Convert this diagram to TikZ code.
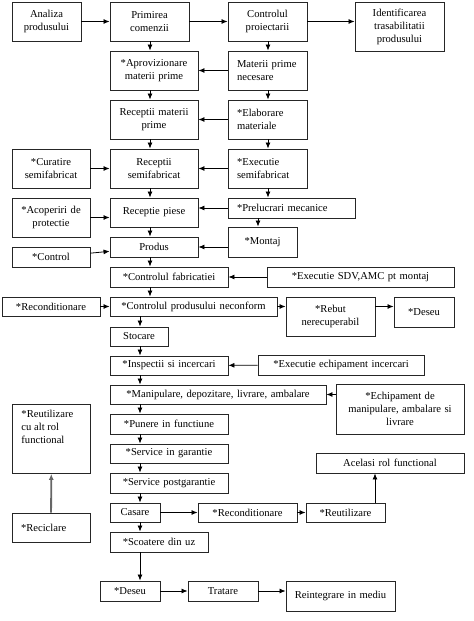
\documentclass[tikz,border=0pt]{standalone}
\usepackage{fontspec}
\setmainfont{Liberation Serif}
\usetikzlibrary{arrows.meta}

\begin{document}
\begin{tikzpicture}[x=1bp, y=-1bp,
    box/.style={draw=black!85, line width=0.9bp, inner ysep=2bp,
      font=\fontsize{10.6bp}{13bp}\selectfont},
    arr/.style={-{Latex[length=6bp,width=5bp]}, line width=0.8bp},
    grayarr/.style={arr, draw=black!60, line width=1.8bp}]
    \useasboundingbox (0,0) rectangle (474,621);

    % Columns of the vertical arrows
    \coordinate (colA) at (150,0);
    \coordinate (colB) at (140,0);
    \coordinate (colC) at (268,0);
    \coordinate (colD) at (258,0);
    \coordinate (colE) at (375,0);

    % Boxes with centered text: name/left/top/right/bottom/text
    \foreach \n/\xa/\ya/\xb/\yb/\t in {
      ana/12/2/81/41/{Analiza\\produsului},
      prim/110/2/189/41/{Primirea\\comenzii},
      ctrl/228/2/307/41/{Controlul\\proiectarii},
      ident/355/2/444/51/{Identificarea\\trasabilitatii\\produsului},
      aprov/110/51/198/90/{*Aprovizionare\\materii prime},
      recmat/110/100/198/139/{Receptii materii\\prime},
      cur/12/149/90/188/{*Curatire\\semifabricat},
      recsf/110/149/198/188/{Receptii\\semifabricat},
      acop/12/198/90/237/{*Acoperiri de\\protectie},
      recp/110/198/198/227/{Receptie piese},
      ctl/12/247/90/267/{*Control},
      prod/110/237/198/257/{Produs},
      mont/228/227/297/257/{*Montaj},
      cfab/110/267/228/287/{*Controlul fabricatiei},
      sdv/267/267/454/287/{*Executie SDV,AMC pt montaj},
      recA/2/297/100/316/{*Reconditionare},
      cprod/110/297/277/316/{*Controlul produsului neconform},
      rebut/286/297/375/336/{*Rebut\\nerecuperabil},
      deseuA/394/297/454/327/{*Deseu},
      stoc/110/327/168/346/{Stocare},
      insp/110/356/228/375/{*Inspectii si incercari},
      echinc/258/355/424/375/{*Executie echipament incercari},
      manip/110/385/326/404/{*Manipulare, depozitare, livrare, ambalare},
      echman/336/384/464/434/{*Echipament de\\manipulare, ambalare si\\livrare},
      pun/110/414/228/434/{*Punere in functiune},
      sgar/110/444/228/463/{*Service in garantie},
      spg/110/473/228/493/{*Service postgarantie},
      cas/110/503/160/522/{Casare},
      recB/198/503/297/522/{*Reconditionare},
      reutil/306/503/385/522/{*Reutilizare},
      acel/316/453/464/473/{Acelasi rol functional},
      scoat/110/532/208/552/{*Scoatere din uz},
      deseuB/100/581/160/601/{*Deseu},
      trat/188/581/258/601/{Tratare},
      reint/286/581/395/611/{Reintegrare in mediu}} {
      \pgfmathsetmacro\tw{\xb-\xa-8}
      \pgfmathsetmacro\hh{\yb-\ya}
      \node[box, align=center, inner xsep=4bp, text width=\tw bp, minimum height=\hh bp]
        (\n) at ({(\xa+\xb)/2},{(\ya+\yb)/2}) {\t};
    }

    % Boxes with left aligned text
    \foreach \n/\xa/\ya/\xb/\yb/\t in {
      matp/228/51/307/90/{Materii prime\\necesare},
      elab/228/100/307/139/{*Elaborare\\materiale},
      exsf/228/149/307/188/{*Executie\\semifabricat},
      prel/228/198/355/218/{*Prelucrari mecanice},
      recic/12/513/90/542/{*Reciclare}} {
      \pgfmathsetmacro\tw{\xb-\xa-18}
      \pgfmathsetmacro\hh{\yb-\ya}
      \node[box, align=left, inner xsep=9bp, text width=\tw bp, minimum height=\hh bp]
        (\n) at ({(\xa+\xb)/2},{(\ya+\yb)/2}) {\t};
    }
    \node[box, anchor=north west, inner xsep=9bp, inner ysep=5.5bp] (ralt) at (12,404)
      {\parbox[t][58bp][t]{60bp}{*Reutilizare\\cu alt rol\\functional}};

    % Straight arrows
    \foreach \a/\b in {ana/prim, prim/ctrl, matp/aprov, elab/recmat, exsf/recsf,
      cur/recsf, ctl/prod, sdv/cfab, recA/cprod, echinc/insp, cas/recB,
      recB/reutil, deseuB/trat}
      \draw[arr] (\a) -- (\b);

    % Vertical arrows
    \foreach \a/\b in {prim/aprov, aprov/recmat, recmat/recsf, recsf/recp,
      recp/prod, prod/cfab, cfab/cprod}
      \draw[arr] (\a.south -| colA) -- (\b.north -| colA);
    \foreach \a/\b in {cprod/stoc, stoc/insp, insp/manip, manip/pun, pun/sgar,
      sgar/spg, spg/cas, cas/scoat, scoat/deseuB}
      \draw[arr] (\a.south -| colB) -- (\b.north -| colB);
    \foreach \a/\b in {ctrl/matp, matp/elab, elab/exsf, exsf/prel}
      \draw[arr] (\a.south -| colC) -- (\b.north -| colC);
    \draw[arr] (prel.south -| colD) -- (mont.north -| colD);
    \draw[arr] (reutil.north -| colE) -- (acel.south -| colE);
    \draw[grayarr] (recic) -- (ralt);

    % Arrows between boxes of different heights
    \draw[arr] (ctrl.east) -- (ident.west |- ctrl.east);
    \draw[arr] (prel.west) -- (recp.east |- prel.west);
    \draw[arr] (acop.east) -- (recp.west |- acop.east);
    \draw[arr] (mont.west |- prod.east) -- (prod.east);
    \draw[arr] (cprod.east) -- (rebut.west |- cprod.east);
    \draw[arr] (rebut.east |- cprod.east) -- (deseuA.west |- cprod.east);
    \draw[arr] (echman.west |- manip.east) -- (manip.east);
    \draw[arr] (trat.east) -- (reint.west |- trat.east);
\end{tikzpicture}
\end{document}
